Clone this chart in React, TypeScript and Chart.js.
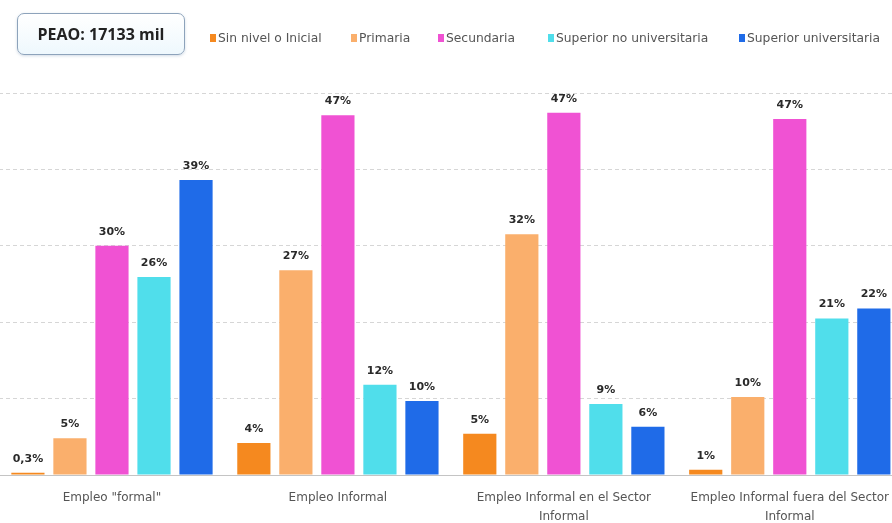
import React, { useEffect, useRef } from "react";
import { Chart, registerables } from "chart.js";

Chart.register(...registerables);

const categories: (string | string[])[] = [
  'Empleo "formal"',
  "Empleo Informal",
  ["Empleo Informal en el Sector", "Informal"],
  ["Empleo Informal fuera del Sector", "Informal"],
];

const seriesNames = [
  "Sin nivel o Inicial",
  "Primaria",
  "Secundaria",
  "Superior no universitaria",
  "Superior universitaria",
];

const sinNivel = [0.3, 4.2, 5.4, 0.7];
const primaria = [4.8, 26.8, 31.5, 10.2];
const secundaria = [30, 47.1, 47.4, 46.6];
const superiorNoUniv = [25.9, 11.8, 9.3, 20.5];
const superiorUniv = [38.6, 9.7, 6.3, 21.8];

const sinNivelLabels = ["0,3%", "4%", "5%", "1%"];
const primariaLabels = ["5%", "27%", "32%", "10%"];
const secundariaLabels = ["30%", "47%", "47%", "47%"];
const superiorNoUnivLabels = ["26%", "12%", "9%", "21%"];
const superiorUnivLabels = ["39%", "10%", "6%", "22%"];

const yTicks = [0, 10, 20, 30, 40, 50];

const colors = ["#F5891F", "#FAAF6C", "#F052D3", "#50DEEB", "#1F6BE8"];
const legendLefts = [210, 351, 438, 548, 739];

const seriesValues = [sinNivel, primaria, secundaria, superiorNoUniv, superiorUniv];
const seriesLabels = [
  sinNivelLabels,
  primariaLabels,
  secundariaLabels,
  superiorNoUnivLabels,
  superiorUnivLabels,
];

const FONT = "'DejaVu Sans', sans-serif";

const valueLabelPlugin = {
  id: "valueLabels",
  afterDatasetsDraw(chart: any) {
    const ctx = chart.ctx;
    ctx.save();
    ctx.font = `bold 11px ${FONT}`;
    ctx.fillStyle = "#2a2a2a";
    ctx.textAlign = "center";
    ctx.textBaseline = "middle";
    chart.data.datasets.forEach((ds: any, i: number) => {
      const meta = chart.getDatasetMeta(i);
      meta.data.forEach((el: any, j: number) => {
        ctx.fillText(seriesLabels[i][j], el.x, el.y - 14);
      });
    });
    ctx.restore();
  },
};

export default function App() {
  const ref = useRef<HTMLCanvasElement>(null);

  useEffect(() => {
    if (!ref.current) return;
    const chart = new Chart(ref.current, {
      type: "bar",
      data: {
        labels: categories,
        datasets: seriesNames.map((name, i) => ({
          label: name,
          data: seriesValues[i],
          backgroundColor: colors[i],
          borderWidth: 0,
          categoryPercentage: 0.93,
          barPercentage: 0.79,
        })),
      },
      options: {
        animation: false,
        responsive: false,
        layout: { padding: { top: 93, left: 0, right: 0, bottom: 0 } },
        plugins: {
          legend: { display: false },
          tooltip: { enabled: false },
        },
        scales: {
          x: {
            grid: { display: false, drawTicks: false },
            border: { display: true, color: "#c4c4c4", width: 1 },
            ticks: {
              padding: 14,
              color: "#555555",
              font: { family: FONT, size: 12, lineHeight: 1.55 },
              maxRotation: 0,
              autoSkip: false,
            },
            afterFit: (scale: any) => {
              scale.height = 48;
            },
          },
          y: {
            min: 0,
            max: 50,
            afterBuildTicks: (scale: any) => {
              scale.ticks = yTicks.map((v) => ({ value: v }));
            },
            ticks: { display: false },
            grid: { color: "#d6d6d6", lineWidth: 1, drawTicks: false },
            border: { display: false, dash: [4, 3] },
            afterFit: (scale: any) => {
              scale.width = 0;
            },
          },
        },
      },
      plugins: [valueLabelPlugin],
    });
    return () => chart.destroy();
  }, []);

  return (
    <div
      style={{
        position: "fixed",
        left: 0,
        top: 0,
        width: 892,
        height: 523,
        overflow: "hidden",
        background: "#ffffff",
        fontFamily: FONT,
      }}
    >
      <div style={{ position: "absolute", left: -1, top: 0, width: 904, height: 523 }}>
        <canvas ref={ref} width={904} height={523} style={{ display: "block" }} />
      </div>
      <div
        style={{
          position: "absolute",
          left: 17,
          top: 13,
          width: 168,
          height: 42,
          boxSizing: "border-box",
          border: "1.5px solid #8da3bb",
          borderRadius: 7,
          background: "linear-gradient(#ffffff, #eef8fd)",
          boxShadow: "0 1px 3px rgba(120,150,180,0.35)",
          display: "flex",
          alignItems: "center",
          justifyContent: "center",
          fontFamily: "'Open Sans', sans-serif",
          fontWeight: 700,
          fontSize: 16,
          color: "#222222",
        }}
      >
        PEAO: 17133 mil
      </div>
      {seriesNames.map((name, i) => (
        <div
          key={name}
          style={{
            position: "absolute",
            left: legendLefts[i],
            top: 30,
            height: 16,
            display: "flex",
            alignItems: "center",
            fontSize: 12.3,
            color: "#555555",
            whiteSpace: "nowrap",
          }}
        >
          <span
            style={{
              display: "inline-block",
              width: 6,
              height: 8,
              background: colors[i],
              marginRight: 2,
            }}
          />
          {name}
        </div>
      ))}
    </div>
  );
}
